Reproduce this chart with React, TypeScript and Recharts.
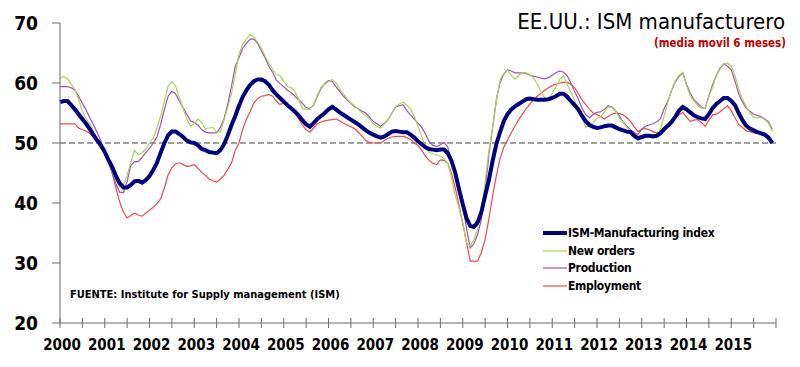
import { LineChart, Line, XAxis, YAxis, ReferenceLine, Legend } from "recharts";

const YEARS = [
  "2000", "2001", "2002", "2003", "2004", "2005", "2006", "2007",
  "2008", "2009", "2010", "2011", "2012", "2013", "2014", "2015",
];

// monthly values, 6-month moving average, Jan 2000 - Dec 2015
const ISM = [
  56.8, 57.0, 57.0, 56.3, 55.6, 54.8, 54.0, 53.2, 52.3, 51.3, 50.4, 49.6,
  48.5, 47.2, 46.0, 44.5, 43.3, 42.6, 42.6, 43.0, 43.6, 43.7, 43.4, 43.8,
  44.5, 45.5, 46.7, 48.4, 50.0, 51.3, 51.9, 51.9, 51.5, 51.0, 50.4, 50.1,
  50.0, 49.6, 49.0, 48.8, 48.5, 48.4, 48.3, 48.8, 49.8, 51.3, 53.0, 54.5,
  56.2, 57.7, 58.8, 59.7, 60.3, 60.6, 60.6, 60.3, 59.7, 58.8, 58.1, 57.5,
  56.9, 56.3, 55.8, 55.2, 54.6, 53.8, 53.1, 52.7, 53.3, 54.0, 54.5, 55.0,
  55.6, 56.0, 55.6, 55.1, 54.7, 54.3, 53.9, 53.5, 53.1, 52.6, 52.1, 51.7,
  51.4, 51.1, 50.9, 51.1, 51.5, 51.9, 52.0, 51.9, 51.8, 51.8, 51.4, 50.9,
  50.3, 49.8, 49.3, 49.0, 48.9, 48.8, 48.9, 48.9, 48.3, 47.0, 45.0, 42.3,
  39.8, 37.5, 36.2, 36.0, 36.8, 38.5, 41.2, 43.8, 47.0, 49.8, 51.8, 53.6,
  54.8, 55.6, 56.1, 56.5, 56.9, 57.3, 57.4, 57.3, 57.2, 57.2, 57.2, 57.3,
  57.5, 57.8, 58.2, 58.2, 57.7, 57.0, 56.3, 55.6, 54.5, 53.6, 53.0, 52.7,
  52.5, 52.6, 52.8, 52.9, 52.9, 52.6, 52.3, 52.1, 51.9, 51.8, 51.2, 50.8,
  51.0, 51.2, 51.2, 51.1, 51.2, 51.6, 52.3, 52.9, 53.5, 54.4, 55.4, 56.0,
  55.6, 55.1, 54.6, 54.3, 54.1, 54.0, 54.8, 55.8, 56.5, 57.0, 57.5, 57.5,
  57.0, 56.3, 55.0, 53.8, 52.9, 52.4, 52.1, 51.8, 51.6, 51.4, 50.9, 50.0,
];

const NEW_ORDERS = [
  60.8, 61.1, 60.7, 59.8, 58.9, 57.2, 55.3, 54.0, 53.1, 52.0, 50.6, 49.6,
  48.0, 46.7, 45.3, 43.8, 42.7, 43.0, 44.6, 46.8, 48.8, 48.0, 48.4, 49.0,
  50.0, 50.8, 52.5, 54.5, 57.0, 59.5, 60.2, 59.5, 57.5, 55.8, 54.0, 52.8,
  53.2, 54.0, 53.4, 52.4, 52.5, 52.6, 51.8, 51.9, 53.8, 56.0, 58.3, 61.5,
  64.8, 66.5, 67.3, 68.1, 67.6, 66.8, 65.8, 64.5, 63.3, 62.3, 61.4, 61.2,
  60.3, 59.4, 59.2, 58.6, 57.2, 55.8, 55.6, 55.6, 56.4, 58.0, 59.3, 59.8,
  60.2, 60.6, 60.0, 59.0, 58.2, 57.4, 56.7, 56.2, 55.6, 55.0, 54.6, 54.0,
  53.2, 52.8, 52.5, 53.2, 53.9, 55.0, 56.1, 56.5, 56.8, 56.3, 55.6, 54.5,
  52.8, 51.1, 49.5, 48.4, 48.2, 48.0, 47.8, 47.4, 46.6, 44.2, 41.3, 39.2,
  36.5, 33.4, 32.9, 33.8, 35.8, 38.8, 43.5, 48.7, 52.6, 57.0, 60.5, 61.6,
  62.2, 61.3, 60.6, 61.3, 61.7, 61.7, 61.4, 60.8, 59.8, 58.5, 57.5, 57.3,
  58.3, 59.4, 60.6, 61.2, 59.8, 58.5, 57.1, 55.7, 54.2, 52.6, 52.9, 53.4,
  54.1, 54.4, 55.2, 56.0, 55.9, 55.3, 54.2, 53.4, 52.6, 51.8, 51.1, 50.7,
  51.1, 51.4, 51.4, 51.4, 51.4, 52.3, 54.5, 56.8, 58.9, 60.4, 61.3, 61.8,
  59.6, 57.9, 57.0, 56.3, 55.8, 55.8, 57.8, 59.3, 61.2, 62.3, 63.2, 63.3,
  62.8, 61.2, 59.0, 57.3, 56.1, 55.0, 54.3, 54.2, 54.3, 53.9, 53.3, 51.9,
];

const PRODUCTION = [
  59.4, 59.4, 59.4, 59.2, 58.8, 57.8, 56.6, 55.5, 54.2, 53.0, 51.7, 50.3,
  48.3, 46.7, 45.0, 43.2, 41.8, 41.7, 43.6, 46.3, 46.9, 46.9, 47.6, 48.4,
  49.1, 50.0, 51.0, 53.1, 55.6, 57.8, 58.6, 58.2, 57.0, 55.9, 54.8, 53.7,
  53.4, 53.0, 52.2, 51.8, 51.7, 51.7, 51.7, 52.6, 54.1, 56.5, 59.5, 62.8,
  64.2, 65.8, 66.6, 67.3, 67.3, 66.6, 65.4, 64.2, 62.8, 61.8, 60.5, 59.9,
  59.4, 58.8, 58.4, 57.8, 57.2, 56.6, 55.9, 55.7, 56.3, 57.8, 59.1, 59.9,
  60.4, 60.3, 59.4, 58.6, 57.8, 57.2, 56.6, 56.0, 55.7, 55.3, 55.0, 54.3,
  53.6, 53.2, 52.8, 53.3, 53.9, 55.0, 56.0, 56.2, 56.4, 55.4, 54.7, 54.0,
  53.3, 52.6, 51.5, 50.2, 49.6, 49.4, 49.7, 50.1, 49.3, 46.7, 44.8, 42.0,
  39.6, 35.8, 32.5, 33.2, 34.8, 37.3, 42.0, 48.0, 52.5, 57.2, 60.1, 61.5,
  62.2, 62.0, 61.7, 61.7, 61.7, 61.6, 61.3, 61.1, 61.0, 60.8, 60.7, 60.9,
  61.3, 61.7, 62.0, 61.8, 61.2, 60.0, 58.6, 57.3, 55.8, 54.7, 54.2, 54.8,
  55.1, 55.2, 55.6, 56.2, 56.0, 55.4, 54.5, 53.5, 52.8, 52.2, 51.7, 51.4,
  52.3, 52.8, 53.0, 53.2, 53.5, 54.0, 55.7, 57.0, 58.8, 60.2, 61.1, 61.7,
  59.8, 58.3, 57.2, 56.6, 56.0, 55.8, 57.8, 59.7, 61.3, 62.5, 63.2, 62.8,
  62.2, 60.3, 58.2, 56.9, 55.8, 55.3, 54.8, 54.6, 54.4, 54.0, 53.5, 52.3,
];

const EMPLOYMENT = [
  53.2, 53.2, 53.2, 53.2, 53.2, 52.5, 52.2, 52.0, 51.6, 50.9, 50.1, 49.2,
  48.3, 46.8, 45.0, 42.5, 40.2, 38.5, 37.5, 37.9, 38.3, 38.0, 37.8, 38.3,
  38.8, 39.3, 39.9, 40.7, 42.5, 44.7, 45.9, 46.5, 46.7, 46.4, 46.1, 46.2,
  46.4, 45.8, 45.1, 44.6, 44.0, 43.7, 43.5, 44.0, 44.6, 45.6, 46.7, 48.8,
  50.0, 52.3, 54.0, 55.2, 56.7, 57.4, 57.8, 57.9, 58.1, 57.8, 57.0, 56.4,
  56.7, 56.4, 56.0, 55.0, 54.0, 53.0, 52.2, 51.8, 52.5, 53.2, 53.5, 53.7,
  53.8, 53.9, 54.0, 53.7, 53.3, 53.0, 52.7, 52.4, 51.8, 51.1, 50.4, 50.1,
  50.0, 50.0, 50.0, 50.4, 50.8, 51.0, 51.1, 51.1, 51.1, 50.9, 50.6, 50.0,
  49.6, 48.8, 47.8, 47.1, 46.6, 46.4, 47.2, 47.1, 46.6, 44.9, 42.5, 39.6,
  36.7, 33.5, 30.3, 30.3, 30.3, 31.8, 33.9, 37.3, 41.2, 44.5, 47.4, 49.3,
  50.5, 51.7, 52.8, 53.9, 54.8, 55.7, 56.5, 57.2, 57.8, 58.3, 58.8, 59.2,
  59.6, 59.8, 60.0, 60.1, 60.1, 59.8, 59.2, 58.2, 57.2, 56.4, 55.6, 55.0,
  54.7, 54.4, 54.0, 54.4, 54.8, 55.0, 54.9, 54.7, 54.2, 53.6, 52.7, 51.9,
  52.3, 52.4, 52.2, 51.9, 51.7, 51.9, 52.3, 52.8, 53.6, 54.2, 54.7, 55.1,
  54.3, 53.6, 53.8, 53.9, 53.4, 52.8, 53.8, 54.7, 54.8, 55.2, 55.7, 56.2,
  55.4, 54.2, 53.1, 52.6, 52.0, 51.9, 51.7, 51.6, 51.5, 51.4, 51.1, 50.3,
];

const SERIES = [
  { key: "ism", name: "ISM-Manufacturing index", color: "#00007f", width: 4 },
  { key: "orders", name: "New orders", color: "#a9d45c", width: 1.2 },
  { key: "prod", name: "Production", color: "#9c55b8", width: 1.2 },
  { key: "emp", name: "Employment", color: "#f24a4a", width: 1.2 },
];

const Y_TICKS = [20, 30, 40, 50, 60, 70];
const X_TICKS = Array.from({ length: YEARS.length * 2 + 1 }, (_, i) => i * 6);

const data = ISM.map((v, i) => ({
  t: i,
  ism: v,
  orders: NEW_ORDERS[i],
  prod: PRODUCTION[i],
  emp: EMPLOYMENT[i],
}));

const FONT = "'DejaVu Sans Condensed', 'DejaVu Sans', sans-serif";
const AXIS = "#6b6b6b";

function XTick({ x, y, payload }: any) {
  const v = payload.value;
  const label = v % 12 === 0 ? YEARS[v / 12] : undefined;
  return (
    <g>
      <line x1={x} x2={x} y1={y - 5} y2={y + 5} stroke={AXIS} />
      {label && (
        <text x={x + 2} y={y + 27} textAnchor="middle" fontFamily={FONT} fontWeight="bold" fontSize={15} fill="#000">
          {label}
        </text>
      )}
    </g>
  );
}

// legend keeps the reference order, whatever order the lines are drawn in
function LegendBox() {
  return (
    <div style={{ fontFamily: FONT, fontWeight: "bold", fontSize: 12, color: "#000" }}>
      {SERIES.map((s) => (
        <div key={s.key} style={{ display: "flex", alignItems: "center", height: 17.7 }}>
          <svg width={24} height={8}>
            <line x1={0} x2={24} y1={4} y2={4} stroke={s.color} strokeWidth={s.width} />
          </svg>
          <span style={{ marginLeft: 1, letterSpacing: -0.3 }}>{s.name}</span>
        </div>
      ))}
    </div>
  );
}

export default function App() {
  return (
    <div style={{ position: "absolute", left: 0, top: 0, width: 800, height: 367, background: "#fff" }}>
      <LineChart width={800} height={367} data={data} margin={{ top: 23, right: 24, left: 0, bottom: 0 }}>
        <XAxis
          dataKey="t"
          type="number"
          domain={[0, 192]}
          ticks={X_TICKS}
          interval={0}
          tickSize={0}
          tickMargin={0}
          tickLine={false}
          height={44}
          stroke={AXIS}
          tick={<XTick />}
        />
        <YAxis
          domain={[20, 70]}
          ticks={Y_TICKS}
          interval={0}
          width={60}
          tickSize={8}
          tickMargin={14}
          stroke={AXIS}
          tick={{ fontFamily: FONT, fontWeight: "bold", fontSize: 19, fill: "#000" }}
        />
        <ReferenceLine y={50} stroke="#808080" strokeWidth={1.5} strokeDasharray="6 3" />
        <Legend
          layout="vertical"
          align="center"
          verticalAlign="middle"
          wrapperStyle={{ left: 543, top: 224, width: 200 }}
          content={<LegendBox />}
        />
        {SERIES.slice().reverse().map((s) => (
          <Line
            key={s.key}
            dataKey={s.key}
            name={s.name}
            type="linear"
            stroke={s.color}
            strokeWidth={s.width}
            dot={false}
            isAnimationActive={false}
          />
        ))}
      </LineChart>
      <svg width={800} height={367} style={{ position: "absolute", left: 0, top: 0, pointerEvents: "none" }}>
        <text x={785} y={29} textAnchor="end" fontFamily={FONT} fontSize={22} fill="#000">
          EE.UU.: ISM manufacturero
        </text>
        <text x={786} y={47} textAnchor="end" fontFamily={FONT} fontWeight="bold" fontSize={11.5} fill="#c00000">
          (media movil 6 meses)
        </text>
        <text x={70} y={298} fontFamily={FONT} fontWeight="bold" fontSize={11} fill="#000">
          FUENTE: Institute for Supply management (ISM)
        </text>
      </svg>
    </div>
  );
}
